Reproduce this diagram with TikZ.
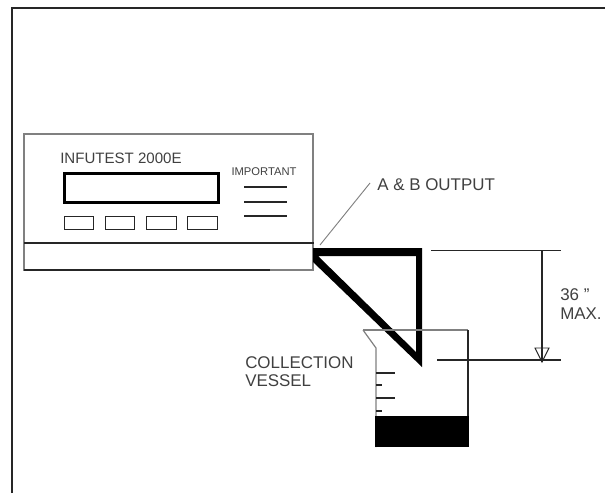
\documentclass[tikz,border=0pt]{standalone}
\usepackage{fontspec}
\setmainfont{Liberation Sans}
\usetikzlibrary{arrows.meta,positioning}
\begin{document}
\begin{tikzpicture}[x=0.75pt,y=-0.75pt,
    thinline/.style={line width=0.9pt,black!85},
    greyline/.style={line width=0.9pt,black!50},
    btn/.style={draw,line width=0.8pt,black!85,minimum width=22pt,minimum height=10pt,inner sep=0pt},
    label/.style={font=\fontsize{12.7}{14}\selectfont,text=black!75,inner sep=0pt,align=left}]
  \useasboundingbox (0,0) rectangle (605,493);
  \draw[line width=1.4pt,black!85] (12,493) -- (12,8) -- (605,8);
  % instrument
  \draw[greyline] (24,134) rectangle (313,270);
  \draw[thinline] (24,243) -- (314,243);
  \draw[thinline] (24,270) -- (270,270);
  \node[label,font=\fontsize{11.3}{13}\selectfont,anchor=west] (title) at (60,158) {INFUTEST 2000E};
  \node[draw,line width=2.2pt,black,minimum width=115pt,minimum height=22pt,inner sep=0pt] (lcd) at (141.5,188) {};
  \foreach \c in {0,1,2,3}{
      \node[btn] (b\c) at (79+\c*41.2,223) {};
  }
  \node[label,font=\fontsize{8.4}{10}\selectfont,anchor=center] (imp) at (264,172) {IMPORTANT};
  \foreach \c in {187,202,216}{
      \draw[thinline] (244,\c) -- (287,\c);
  }
  \coordinate (tipA) at (320,245);
  \coordinate (tipB) at (370,183);
  \draw[greyline,line width=0.7pt] (tipA) -- (tipB);
  \node[label,anchor=west] (output) at (377,185) {A \& B OUTPUT};
  % tube
  \fill[black,even odd rule] (313,248) -- (422,248) -- (422,367) -- (313,262) -- cycle
      (318,256) -- (416,256) -- (416,352) -- cycle;
  % vessel
  \draw[greyline] (363,330) -- (468,330);
  \draw[greyline] (363,330) -- (376,348) -- (376,447);
  \draw[thinline] (468,330) -- (468,447);
  \fill[black] (375,416) rectangle (469,447);
  \foreach \c/\l in {373/395,385/382,398/395,411/382}{
      \draw[thinline] (376,\c) -- (\l,\c);
  }
  \node[label,anchor=west] (vessel) at (245,371.5) {COLLECTION\\VESSEL};
  % dimension
  \draw[thinline] (431,250.5) -- (561,250.5);
  \draw[thinline] (437,360) -- (561,360);
  \draw[thinline] (542,250.5) -- (542,362);
  \draw[thinline,line width=0.7pt] (535,348) -- (549,348) -- (542,362) -- cycle;
  \node[label,anchor=west] (dim) at (560,304) {36 "\\MAX.};
\end{tikzpicture}
\end{document}
